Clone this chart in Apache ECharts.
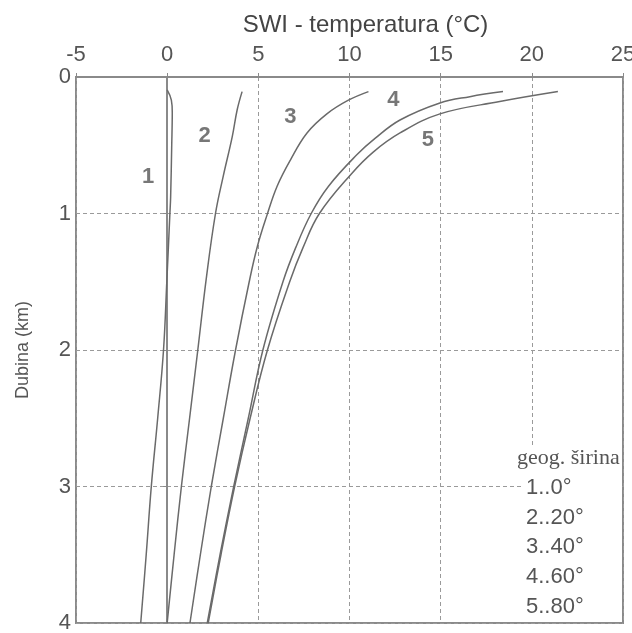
<!DOCTYPE html>
<html><head><meta charset="utf-8">
<script src="https://cdn.jsdelivr.net/npm/echarts@6/dist/echarts.min.js"></script>
<style>html,body{margin:0;padding:0;background:#fff}#c{width:632px;height:633px}</style>
</head><body><div id="c"></div>
<script>
// depth (km) values and temperatures (°C) for each curve
const curve1Depth = [0.095, 0.17, 0.26, 0.5, 0.88, 1.0, 1.5, 2.0, 2.5, 3.0, 3.5, 4.0];
const curve1Temp  = [0.0, 0.23, 0.28, 0.25, 0.19, 0.15, -0.02, -0.2, -0.52, -0.87, -1.15, -1.45];
const curve2Depth = [0.107, 0.24, 0.437, 0.73, 1.0, 1.46, 2.0, 2.5, 3.0, 3.5, 4.0];
const curve2Temp  = [4.11, 3.84, 3.57, 3.07, 2.65, 2.16, 1.68, 1.23, 0.78, 0.38, 0.0];
const curve3Depth = [0.107, 0.17, 0.27, 0.41, 0.61, 0.80, 1.01, 1.24, 1.5, 2.0, 2.5, 3.0, 3.5, 4.0];
const curve3Temp  = [11.04, 9.94, 8.76, 7.67, 6.75, 6.03, 5.48, 4.95, 4.5, 3.75, 3.08, 2.42, 1.82, 1.25];
const curve4Depth = [0.107, 0.144, 0.19, 0.315, 0.45, 0.57, 0.8, 1.0, 1.25, 1.5, 2.0, 2.5, 3.0, 3.5, 4.0];
const curve4Temp  = [18.42, 16.6, 14.96, 12.77, 11.4, 10.4, 8.85, 7.9, 7.05, 6.35, 5.25, 4.45, 3.65, 2.9, 2.2];
const curve5Depth = [0.107, 0.18, 0.27, 0.41, 0.55, 0.71, 1.0, 1.25, 1.5, 2.0, 2.5, 3.0, 3.5, 4.0];
const curve5Temp  = [21.43, 18.24, 14.96, 12.77, 11.3, 10.1, 8.35, 7.45, 6.72, 5.5, 4.55, 3.7, 2.95, 2.25];
const curveNames  = ['1', '2', '3', '4', '5'];
const curveLabelTemp  = [-1.05, 2.05, 6.76, 12.4, 14.3];
const curveLabelDepth = [0.73, 0.43, 0.29, 0.17, 0.46];
const legendTitle = 'geog. širina';
const legendItems = ['1..0°', '2..20°', '3..40°', '4..60°', '5..80°'];
const xTicks = { min: -5, max: 25, interval: 5 };
const yTicks = { min: 0, max: 4, interval: 1 };
const xName = 'SWI - temperatura (°C)';
const yName = 'Dubina (km)';

const depths = [curve1Depth, curve2Depth, curve3Depth, curve4Depth, curve5Depth];
const temps = [curve1Temp, curve2Temp, curve3Temp, curve4Temp, curve5Temp];

const chart = echarts.init(document.getElementById('c'), null, {renderer: 'canvas'});
const font = '"Liberation Sans", Arial, sans-serif';
const gridColor = '#9a9a9a';
const axisColor = '#8a8a8a';
const series = depths.map((d, i) => ({
  name: curveNames[i], type: 'line', smooth: 0.4, symbol: 'none', z: 3,
  lineStyle: { color: '#6a6a6a', width: 1.5 },
  data: d.map((v, j) => [temps[i][j], v])
}));
series.push({
  type: 'scatter', symbolSize: 0, z: 4, silent: true,
  label: { show: true, position: 'inside', formatter: p => p.name, fontFamily: font, fontSize: 22, fontWeight: 'bold', color: '#555' },
  data: curveNames.map((n, i) => ({ name: n, value: [curveLabelTemp[i], curveLabelDepth[i]] }))
});

const legendGraphics = [
  { type: 'rect', shape: { x: 524, y: 450, width: 96, height: 171 }, style: { fill: '#fff' }, z: 10 },
  { type: 'text', x: 517, y: 458, style: { text: legendTitle, font: '22px "Liberation Serif", serif', fill: '#555', verticalAlign: 'middle', backgroundColor: '#fff', padding: [0, 2, 0, 0] }, z: 11 }
];
legendItems.forEach((t, i) => {
  legendGraphics.push({ type: 'text', x: 526, y: 488 + i * 29.7, style: { text: t, font: '22px ' + font, fill: '#555', verticalAlign: 'middle' }, z: 11 });
});

chart.setOption({
  animation: false,
  backgroundColor: '#fff',
  grid: { left: 76, top: 77, width: 547, height: 546, outerBoundsMode: 'none', containLabel: false, show: true, borderColor: axisColor, borderWidth: 2, backgroundColor: 'transparent' },
  xAxis: {
    type: 'value', position: 'top', min: xTicks.min, max: xTicks.max, interval: xTicks.interval,
    name: xName, nameLocation: 'middle', nameGap: 40,
    nameTextStyle: { fontFamily: font, fontSize: 24, color: '#444', padding: [0, 0, 0, 32] },
    axisLine: { show: true, lineStyle: { color: axisColor, width: 2 } },
    axisTick: { show: true, length: 4, lineStyle: { color: axisColor } },
    axisLabel: { fontFamily: font, fontSize: 22, color: '#555', margin: 11 },
    splitLine: { show: true, lineStyle: { color: gridColor, type: [4, 3], width: 1 } }
  },
  yAxis: {
    type: 'value', inverse: true, min: yTicks.min, max: yTicks.max, interval: yTicks.interval,
    name: yName, nameLocation: 'middle', nameGap: 44, nameRotate: 90,
    nameTextStyle: { fontFamily: font, fontSize: 18, color: '#555' },
    axisLine: { show: true, lineStyle: { color: axisColor, width: 2 } },
    axisTick: { show: true, length: 4, lineStyle: { color: axisColor } },
    axisLabel: { fontFamily: font, fontSize: 22, color: '#555', margin: 5 },
    splitLine: { show: true, lineStyle: { color: gridColor, type: [4, 3], width: 1 } }
  },
  series: series,
  graphic: legendGraphics
});
</script></body></html>
